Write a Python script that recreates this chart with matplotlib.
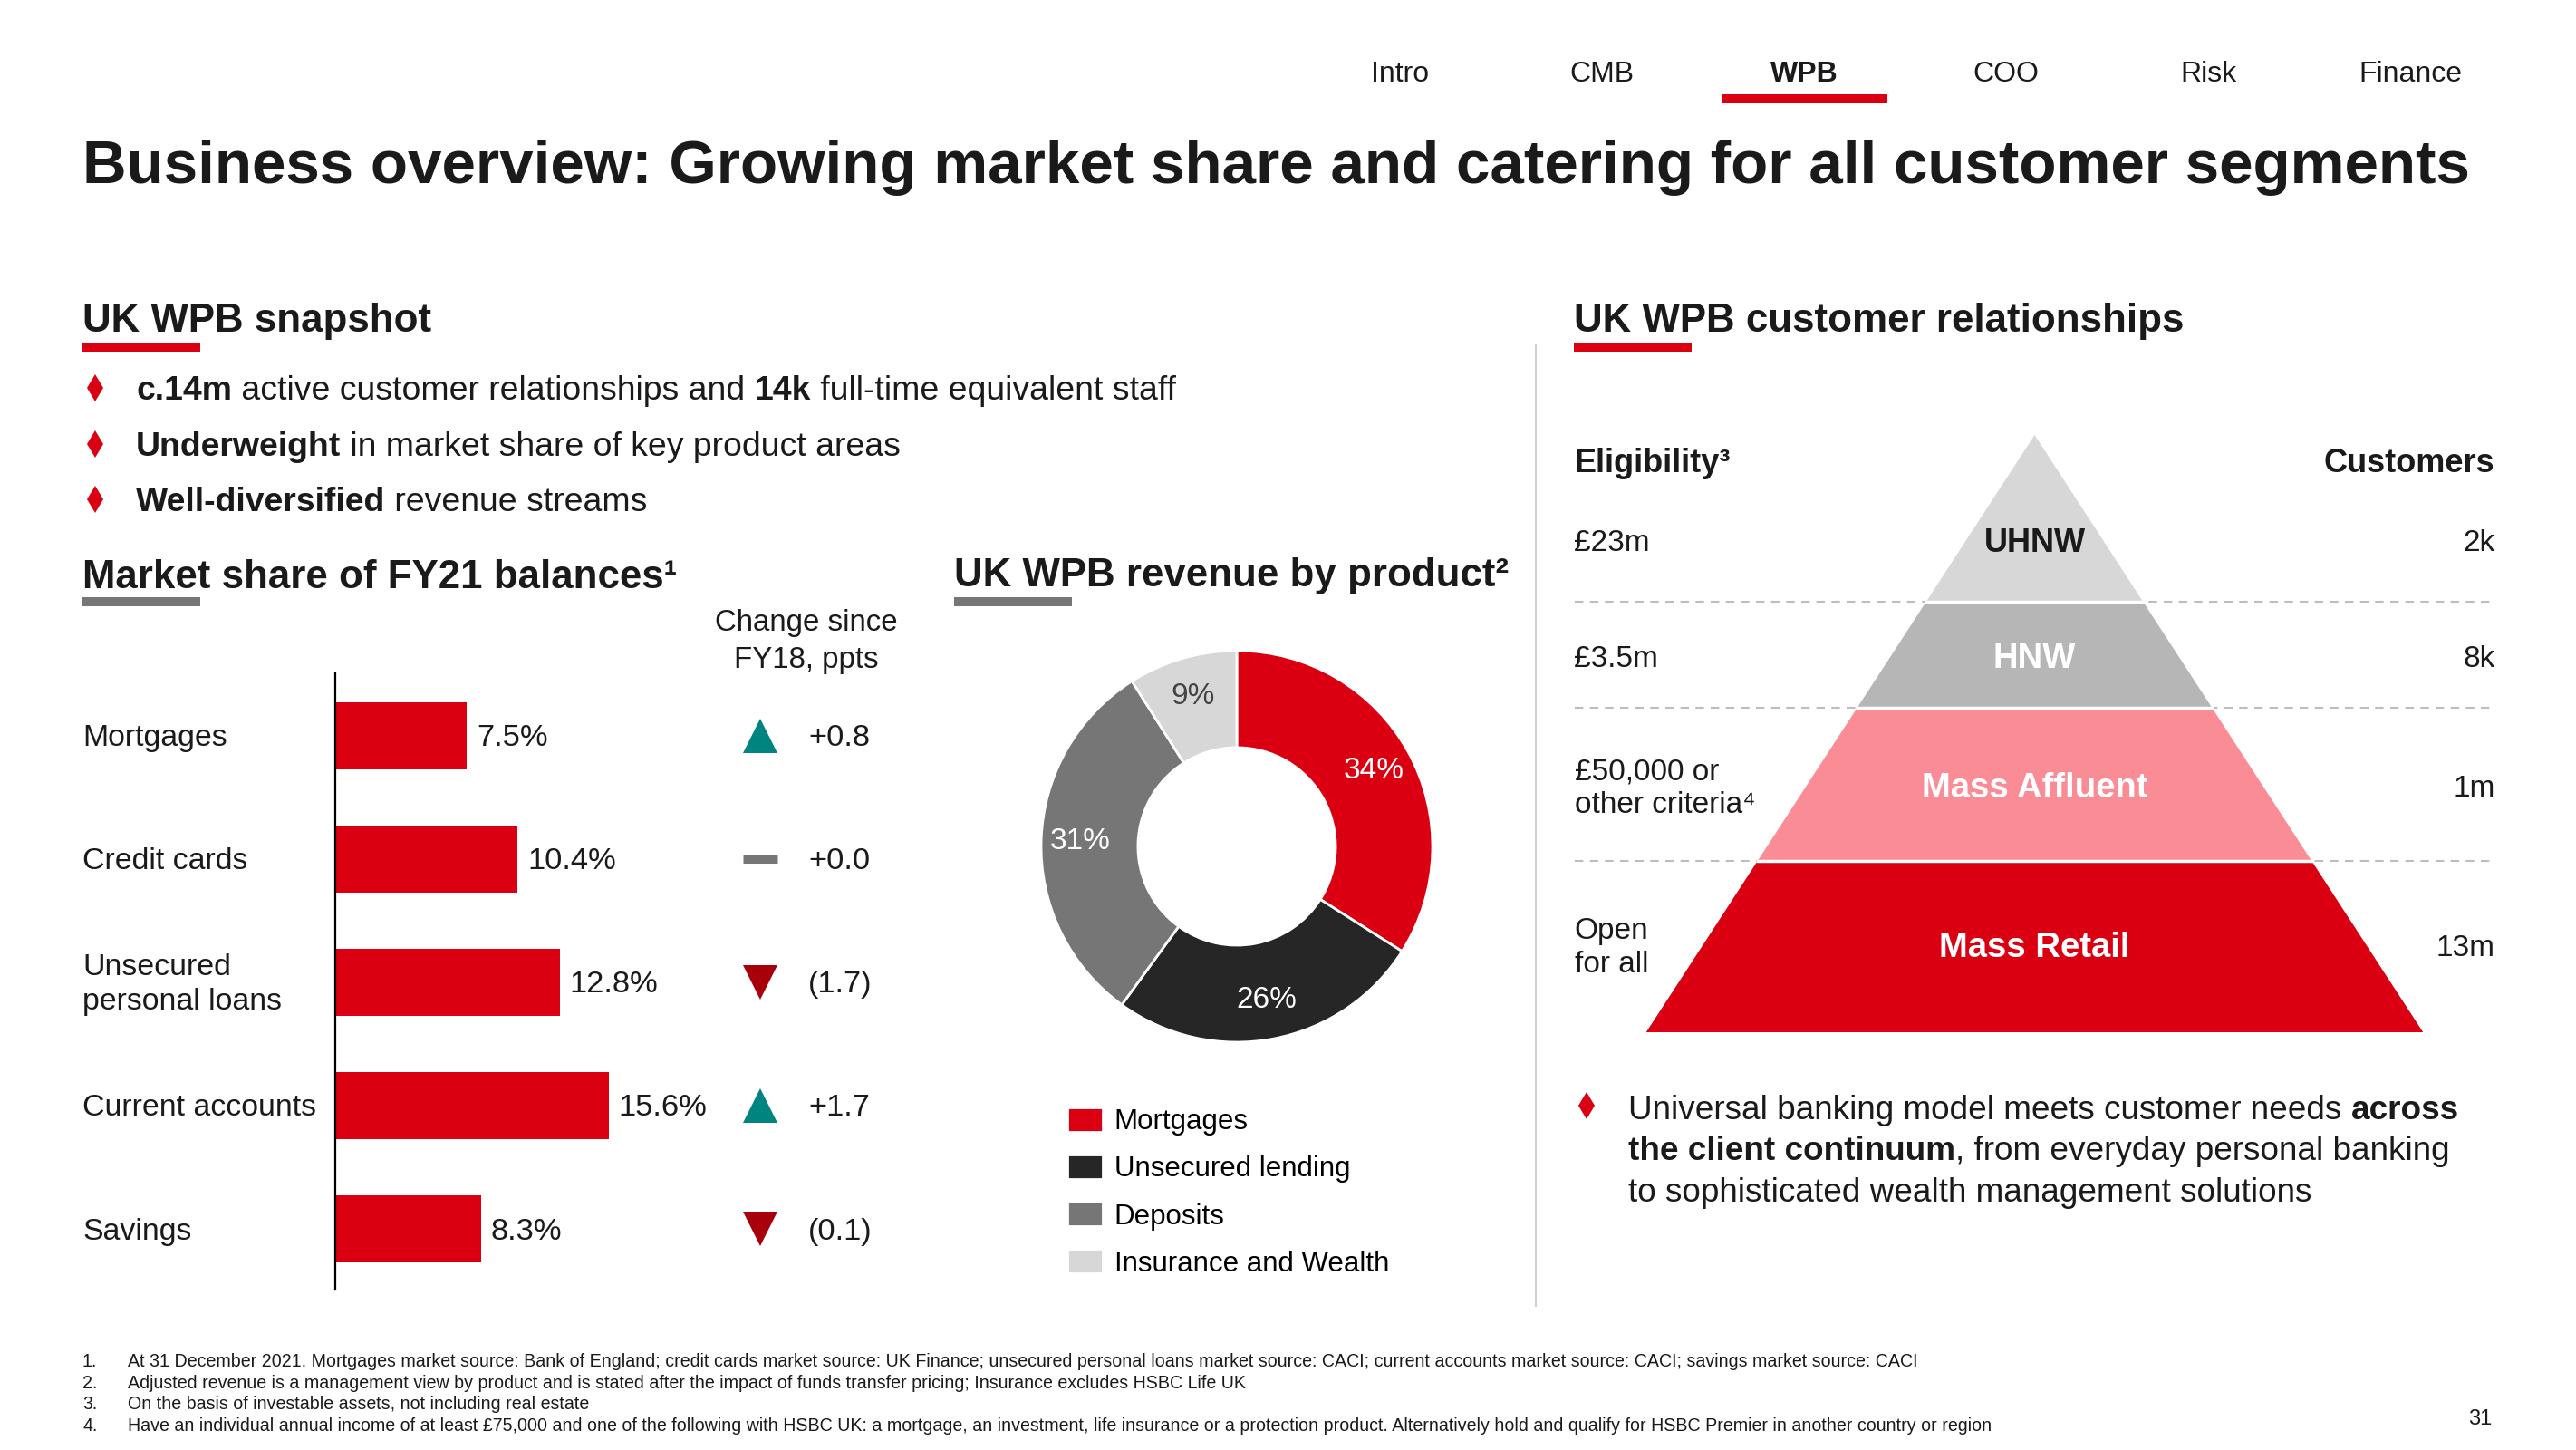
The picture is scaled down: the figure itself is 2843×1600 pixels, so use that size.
import numpy as np
import matplotlib
matplotlib.use("Agg")
import matplotlib.pyplot as plt
from matplotlib import transforms
from matplotlib.patches import Polygon, Rectangle

plt.rcParams["font.family"] = ["Liberation Sans", "DejaVu Sans"]

# ---- data ----
nav_items = ["Intro", "CMB", "WPB", "COO", "Risk", "Finance"]
nav_active = "WPB"

snapshot_bullets = [
    [("c.14m", True), (" active customer relationships and ", False), ("14k", True),
     (" full-time equivalent staff", False)],
    [("Underweight", True), (" in market share of key product areas", False)],
    [("Well-diversified", True), (" revenue streams", False)],
]

share_cats = ["Mortgages", "Credit cards", "Unsecured\npersonal loans", "Current accounts", "Savings"]
share_vals = [7.5, 10.4, 12.8, 15.6, 8.3]
share_change = [0.8, 0.0, -1.7, 1.7, -0.1]

rev_products = ["Mortgages", "Unsecured lending", "Deposits", "Insurance and Wealth"]
rev_pct = [34, 26, 31, 9]

tiers = ["Mass Retail", "Mass Affluent", "HNW", "UHNW"]
tier_eligibility = ["Open\nfor all", "£50,000 or\nother criteria⁴", "£3.5m", "£23m"]
tier_customers = ["13m", "1m", "8k", "2k"]

continuum_lines = [
    [("Universal banking model meets customer needs ", False), ("across", True)],
    [("the client continuum", True), (", from everyday personal banking", False)],
    [("to sophisticated wealth management solutions", False)],
]

footnotes = [
    "At 31 December 2021. Mortgages market source: Bank of England; credit cards market source: UK Finance; "
    "unsecured personal loans market source: CACI; current accounts market source: CACI; savings market source: CACI",
    "Adjusted revenue is a management view by product and is stated after the impact of funds transfer pricing; "
    "Insurance excludes HSBC Life UK",
    "On the basis of investable assets, not including real estate",
    "Have an individual annual income of at least £75,000 and one of the following with HSBC UK: a mortgage, "
    "an investment, life insurance or a protection product. Alternatively hold and qualify for HSBC Premier "
    "in another country or region",
]

# ---- colours ----
INK = "#1a1a1a"
RED = "#DB0011"
GREY = "#767676"
TEAL = "#00847F"
DRED = "#A8000B"
rev_colors = ["#DB0011", "#262626", "#767676", "#D7D7D7"]
tier_colors = ["#DB0011", "#FA8C95", "#B6B6B6", "#D7D7D7"]

W, H = 2843, 1600
PX = 100 / 72

fig = plt.figure(figsize=(W / 100, H / 100), dpi=100)
bg = fig.add_axes([0, 0, 1, 1])
bg.set_xlim(0, W)
bg.set_ylim(H, 0)
bg.axis("off")
renderer = fig.canvas.get_renderer()


def fig_rect(x0, y0, x1, y1):
    return [x0 / W, 1 - y1 / H, (x1 - x0) / W, (y1 - y0) / H]


def txt(x, yc, s, size, **kw):
    kw.setdefault("color", INK)
    return bg.text(x, yc + 0.36 * size * PX, s, fontsize=size, va="baseline", **kw)


def width_of(s, size, weight):
    t = bg.text(0, 0, s + "|", fontsize=size, fontweight=weight)
    w1 = t.get_window_extent(renderer).width
    t.set_text("|")
    w2 = t.get_window_extent(renderer).width
    t.remove()
    return w1 - w2


def rich(x, yc, parts, size, color=INK):
    for s, b in parts:
        w = "bold" if b else "normal"
        txt(x, yc, s, size, fontweight=w, color=color)
        x += width_of(s, size, w)


def bullet(x, yc):
    bg.plot([x], [yc], marker="d", ms=15, color=RED, mew=0)


def underline(x0, y, color):
    bg.add_patch(Rectangle((x0, y - 5), 130, 10, color=color, lw=0))


# ---- navigation + title ----
nav_x = [1545, 1768, 1991, 2214, 2437, 2660]
for x, name in zip(nav_x, nav_items):
    txt(x, 78, name, 23, ha="center", fontweight="bold" if name == nav_active else "normal")
bg.add_patch(Rectangle((1900, 104), 183, 10, color=RED, lw=0))

txt(91, 178, "Business overview: Growing market share and catering for all customer segments", 48.5,
    fontweight="bold")

# ---- left column ----
HEAD = 31.6
txt(91, 350, "UK WPB snapshot", HEAD, fontweight="bold")
underline(91, 383, RED)
for yc, parts in zip([428, 490, 551], snapshot_bullets):
    bullet(105, yc)
    rich(150, yc, parts, 26.9)

txt(91, 633, "Market share of FY21 balances¹", HEAD, fontweight="bold")
underline(91, 664, GREY)
txt(890, 684, "Change since", 23.8, ha="center")
txt(890, 725, "FY18, ppts", 23.8, ha="center")

axb = fig.add_axes(fig_rect(370, 743, 757, 1423))
axb.patch.set_alpha(0)
ypos = np.arange(len(share_vals))
axb.barh(ypos, share_vals, height=0.545, color=RED)
axb.set_xlim(0, 20)
axb.set_ylim(4.49, -0.507)
for s in ["top", "right", "bottom"]:
    axb.spines[s].set_visible(False)
axb.spines["left"].set_linewidth(1.6)
axb.spines["left"].set_color("black")
axb.set_xticks([])
axb.set_yticks([])
tb = transforms.blended_transform_factory(bg.transData, axb.transData)
for i, (cat, v, c) in enumerate(zip(share_cats, share_vals, share_change)):
    axb.text(v + 0.55, i + 0.02, f"{v}%", fontsize=24.8, va="center", color=INK)
    axb.text(91, i + 0.02, cat, fontsize=24.4, va="center", ha="left", color=INK, transform=tb,
             linespacing=1.3)
    if c > 0:
        axb.plot([839], [i], marker="^", ms=27, color=TEAL, mew=0, transform=tb, clip_on=False)
        lab = f"+{c:.1f}"
    elif c < 0:
        axb.plot([839], [i], marker="v", ms=27, color=DRED, mew=0, transform=tb, clip_on=False)
        lab = f"({abs(c):.1f})"
    else:
        axb.plot([839], [i], marker="_", ms=28, color=GREY, mew=6.5, transform=tb, clip_on=False)
        lab = f"+{c:.1f}"
    axb.text(892, i + 0.02, lab, fontsize=24.8, va="center", ha="left", color=INK, transform=tb)

# ---- donut ----
txt(1053, 631, "UK WPB revenue by product²", HEAD, fontweight="bold")
underline(1053, 664, GREY)
axd = fig.add_axes(fig_rect(1365 - 216, 934 - 216, 1365 + 216, 934 + 216))
wedges, _, autotexts = axd.pie(
    rev_pct, colors=rev_colors, startangle=90, counterclock=False, radius=1,
    wedgeprops=dict(width=0.495, edgecolor="white", linewidth=2),
    autopct=lambda p: f"{p:.0f}%", pctdistance=0.8, textprops=dict(fontsize=24))
for t, col in zip(autotexts, ["white", "white", "white", "#444444"]):
    t.set_color(col)
axd.set_xlim(-1, 1)
axd.set_ylim(-1, 1)
axd.set_aspect("equal")
axd.legend(wedges, rev_products, loc="upper left", bbox_to_anchor=(1178, 1222),
           bbox_transform=bg.transData, frameon=False, fontsize=22.5, handlelength=1.25,
           handleheight=0.95, handletextpad=0.4, labelspacing=0.67, borderpad=0, borderaxespad=0)

# ---- separator ----
bg.plot([1695, 1695], [381, 1441], color="#D0D0D0", lw=1.5)

# ---- pyramid ----
txt(1737, 350, "UK WPB customer relationships", HEAD, fontweight="bold")
underline(1737, 383, RED)
axp = fig.add_axes(fig_rect(1737.5, 480, 2753.5, 1139))
axp.set_xlim(-1.185, 1.185)
axp.set_ylim(0, 1)
axp.axis("off")
levels = [0, 0.287, 0.543, 0.721, 1.0]
label_y = [0.141, 0.408, 0.625, 0.818]
axp.hlines(levels[1:4], -1.185, 1.185, colors="#BDBDBD", linestyles=(0, (4.5, 3.5)), lw=1.5, zorder=1)
for k, name in enumerate(tiers):
    y0, y1 = levels[k], levels[k + 1]
    axp.add_patch(Polygon([(-(1 - y0), y0), (1 - y0, y0), (1 - y1, y1), (-(1 - y1), y1)],
                          closed=True, fc=tier_colors[k], ec="none", zorder=2))
    axp.text(0, label_y[k], name, fontsize=27.5 if k < 3 else 26, fontweight="bold", ha="center",
             va="center", color=INK if k == 3 else "white", zorder=4)
    axp.text(-1.185, label_y[k], tier_eligibility[k], fontsize=24, ha="left", va="center",
             color=INK, linespacing=1.25)
    axp.text(1.185, label_y[k], tier_customers[k], fontsize=24, ha="right", va="center", color=INK)
for lv in levels[1:4]:
    axp.plot([-(1 - lv), 1 - lv], [lv, lv], color="white", lw=2.5, zorder=3)
axp.text(-1.185, 0.952, "Eligibility³", fontsize=26, fontweight="bold", ha="left", va="center", color=INK)
axp.text(1.185, 0.952, "Customers", fontsize=26, fontweight="bold", ha="right", va="center", color=INK)

bullet(1751, 1220)
for yc, parts in zip([1222, 1267, 1313], continuum_lines):
    rich(1797, yc, parts, 26.6)

# ---- footnotes ----
for i, (yc, note) in enumerate(zip([1501, 1525, 1548, 1572], footnotes)):
    txt(91, yc, f"{i + 1}.", 14.1)
    txt(141, yc, note, 14.1)
txt(2750, 1563, "31", 17, ha="right")

fig.savefig("out.png", dpi=100)
